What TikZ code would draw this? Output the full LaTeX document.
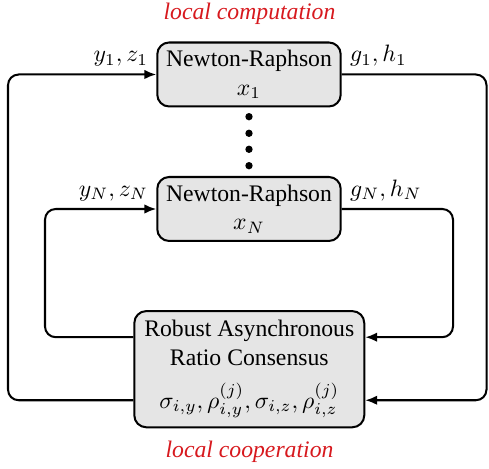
\documentclass[tikz,border=0pt]{standalone}
\usepackage[no-math]{fontspec}
\setmainfont{Liberation Serif}
\usetikzlibrary{arrows.meta}
\definecolor{titlered}{RGB}{215,25,30}
\tikzset{
  nrbox/.style={draw, line width=0.85pt, rounded corners=5pt, fill=gray!20, align=center,
    minimum width=77.4pt, minimum height=27pt, inner sep=2pt},
  consbox/.style={draw, line width=0.85pt, rounded corners=5pt, fill=gray!20, align=center,
    minimum width=97pt, minimum height=49pt, inner sep=2pt},
  conn/.style={line width=0.85pt, rounded corners=4.5pt},
  arr/.style={conn, -{Latex[length=5pt,width=4pt]}},
  lab/.style={inner sep=3.3pt},
  dotnode/.style={circle, fill=black, inner sep=0pt, minimum size=3.1pt},
  titletext/.style={text=titlered, font=\itshape}
}
\begin{document}
\begin{tikzpicture}[x=0.4219pt,y=-0.4219pt]
\useasboundingbox (0,0) rectangle (489,469);

\node[titletext] (t1) at (249.5,14) {local computation};
\node[titletext] (t2) at (249.5,452) {local cooperation};

\node[nrbox] (n1) at (249,74.5) {Newton-Raphson\\$x_1$};
\node[nrbox] (nN) at (249,209) {Newton-Raphson\\$x_N$};
\node[consbox] (cons) at (249.3,369.2) {Robust Asynchronous\\Ratio Consensus\\[6pt]$\sigma_{i,y},\rho^{(j)}_{i,y},\sigma_{i,z},\rho^{(j)}_{i,z}$};

\node[dotnode] (d1) at (249,116.7) {};
\node[dotnode] (d2) at (249,133.3) {};
\node[dotnode] (d3) at (249,149.3) {};
\node[dotnode] (d4) at (249,165.7) {};

\node[lab, above left] (l1) at (n1.west) {$y_1, z_1$};
\node[lab, above right] (r1) at (n1.east) {$g_1, h_1$};
\node[lab, above left] (lN) at (nN.west) {$y_N, z_N$};
\node[lab, above right] (rN) at (nN.east) {$g_N, h_N$};

\coordinate (Lout) at (8,0);
\coordinate (Rout) at (486.5,0);
\coordinate (Lin) at (45,0);
\coordinate (Rin) at (453,0);
\coordinate (cl1) at ([yshift=13.5pt]cons.west);
\coordinate (cr1) at ([yshift=13.5pt]cons.east);
\coordinate (cl2) at ([yshift=-13.1pt]cons.west);
\coordinate (cr2) at ([yshift=-13.1pt]cons.east);

\draw[arr] (cl1) -| (Lin |- nN.west) -- (nN.west);
\draw[arr] (nN.east) -| (Rin |- cr1) -- (cr1);
\draw[arr] (cl2) -| (Lout |- n1.west) -- (n1.west);
\draw[arr] (n1.east) -| (Rout |- cr2) -- (cr2);
\end{tikzpicture}
\end{document}
